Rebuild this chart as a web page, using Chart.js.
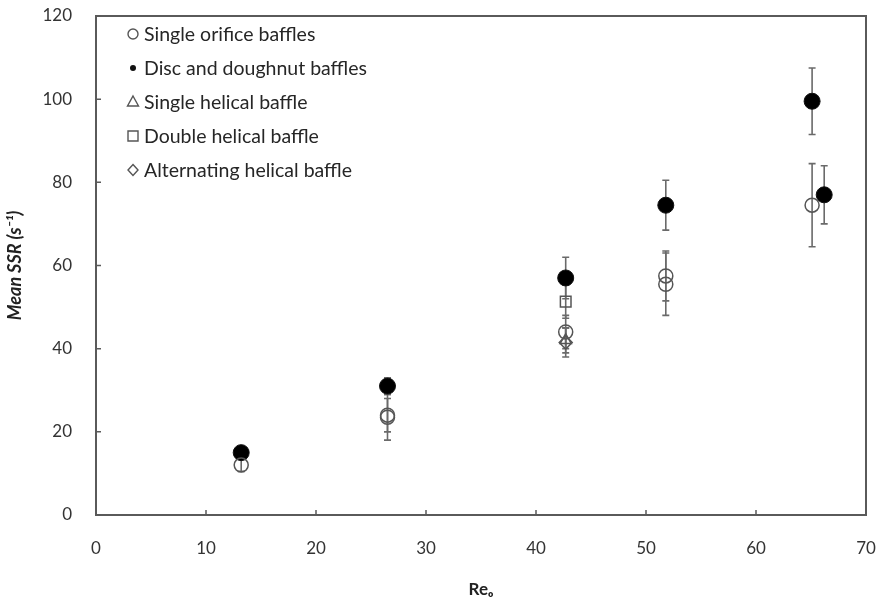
<!DOCTYPE html>
<html>
<head>
<meta charset="utf-8">
<script src="https://cdn.jsdelivr.net/npm/chart.js@4.4.1/dist/chart.umd.min.js"></script>
<style>
  html, body { margin: 0; padding: 0; background: #fff; }
  #wrap { width: 895px; height: 604px; }
</style>
</head>
<body>
<div id="wrap"><canvas id="ssr-chart" width="895" height="604"></canvas></div>
<script>
// values (Re_o vs mean SSR, with +/- error)
var orificeRe  = [13.2, 26.5, 26.5, 42.7, 51.8, 51.8, 65.1];
var orificeSSR = [12, 23.5, 24, 44, 57.5, 55.5, 74.5];
var orificeErr = [1.5, 5.5, 4, 4, 6, 7.5, 10];

var discRe  = [13.2, 26.5, 42.7, 51.8, 65.1, 66.2];
var discSSR = [15, 31, 57, 74.5, 99.5, 77];
var discErr = [1, 2, 5, 6, 8, 7];

var singleRe = [42.7];
var singleSSR = [42];
var singleErr = [3];

var doubleRe = [42.7];
var doubleSSR = [51.3];
var doubleErr = [4];

var altRe = [42.7];
var altSSR = [41.5];
var altErr = [3.5];

var xTicks = [0, 10, 20, 30, 40, 50, 60, 70];
var yTicks = [0, 20, 40, 60, 80, 100, 120];

var legendLabels = ['Single orifice baffles', 'Disc and doughnut baffles', 'Single helical baffle',
                    'Double helical baffle', 'Alternating helical baffle'];

function pts(xs, ys, es) {
  return xs.map(function(x, i) { return { x: x, y: ys[i], err: es[i] }; });
}

var grey = '#5a5a5a';
var FONT = 'Lato, "Open Sans", sans-serif';

// error bars, drawn under the markers
var errorBars = {
  id: 'errorBars',
  beforeDatasetsDraw: function(chart) {
    var ctx = chart.ctx, xs = chart.scales.x, ys = chart.scales.y;
    ctx.save();
    ctx.strokeStyle = '#6a6a6a';
    ctx.lineWidth = 1.6;
    chart.data.datasets.forEach(function(ds) {
      ds.data.forEach(function(p) {
        var px = xs.getPixelForValue(p.x);
        var top = ys.getPixelForValue(p.y + p.err);
        var bot = ys.getPixelForValue(p.y - p.err);
        ctx.beginPath();
        ctx.moveTo(px, top); ctx.lineTo(px, bot);
        ctx.moveTo(px - 3.5, top); ctx.lineTo(px + 3.5, top);
        ctx.moveTo(px - 3.5, bot); ctx.lineTo(px + 3.5, bot);
        ctx.stroke();
      });
    });
    ctx.restore();
  }
};

// box round the plot and inward tick marks
var frame = {
  id: 'frame',
  afterDraw: function(chart) {
    var ctx = chart.ctx, a = chart.chartArea, xs = chart.scales.x, ys = chart.scales.y;
    ctx.save();
    ctx.strokeStyle = grey;
    ctx.lineWidth = 2;
    ctx.strokeRect(a.left, a.top, a.right - a.left, a.bottom - a.top);
    ctx.lineWidth = 1.5;
    ctx.beginPath();
    xTicks.forEach(function(v) {
      var px = xs.getPixelForValue(v);
      ctx.moveTo(px, a.bottom); ctx.lineTo(px, a.bottom - 5);
    });
    yTicks.forEach(function(v) {
      var py = ys.getPixelForValue(v);
      ctx.moveTo(a.left, py); ctx.lineTo(a.left + 5, py);
    });
    ctx.stroke();

    // legend inside the plot, top left
    var lx = a.left + 37, ly = a.top + 18, step = 34;
    ctx.font = '19.5px ' + FONT;
    ctx.fillStyle = '#262626';
    ctx.textBaseline = 'middle';
    legendLabels.forEach(function(t, i) {
      var y = ly + i * step;
      ctx.strokeStyle = '#555';
      ctx.lineWidth = 1.4;
      ctx.beginPath();
      if (i === 0) {
        ctx.arc(lx, y, 5, 0, Math.PI * 2); ctx.stroke();
      } else if (i === 1) {
        ctx.fillStyle = '#111';
        ctx.arc(lx, y, 3, 0, Math.PI * 2); ctx.fill();
        ctx.fillStyle = '#262626';
      } else if (i === 2) {
        ctx.moveTo(lx, y - 6); ctx.lineTo(lx + 5.5, y + 4); ctx.lineTo(lx - 5.5, y + 4); ctx.closePath(); ctx.stroke();
      } else if (i === 3) {
        ctx.rect(lx - 5, y - 5, 10, 10); ctx.stroke();
      } else {
        ctx.moveTo(lx, y - 5.5); ctx.lineTo(lx + 5, y); ctx.lineTo(lx, y + 5.5); ctx.lineTo(lx - 5, y); ctx.closePath(); ctx.stroke();
      }
      ctx.fillText(t, lx + 11, y + 1);
    });
    ctx.restore();
  }
};

new Chart(document.getElementById('ssr-chart'), {
  type: 'scatter',
  data: {
    datasets: [{
      label: legendLabels[0],
      data: pts(orificeRe, orificeSSR, orificeErr),
      pointStyle: 'circle', pointRadius: 7,
      borderColor: '#555', borderWidth: 1.5, backgroundColor: 'rgba(0,0,0,0)'
    }, {
      label: legendLabels[1],
      data: pts(discRe, discSSR, discErr),
      pointStyle: 'circle', pointRadius: 8,
      borderColor: '#111', borderWidth: 1, backgroundColor: '#000'
    }, {
      label: legendLabels[2],
      data: pts(singleRe, singleSSR, singleErr),
      pointStyle: 'triangle', pointRadius: 6.5,
      borderColor: '#555', borderWidth: 1.5, backgroundColor: 'rgba(0,0,0,0)'
    }, {
      label: legendLabels[3],
      data: pts(doubleRe, doubleSSR, doubleErr),
      pointStyle: 'rect', pointRadius: 7.5,
      borderColor: '#555', borderWidth: 1.5, backgroundColor: 'rgba(0,0,0,0)'
    }, {
      label: legendLabels[4],
      data: pts(altRe, altSSR, altErr),
      pointStyle: 'rectRot', pointRadius: 6.5,
      borderColor: '#555', borderWidth: 1.5, backgroundColor: 'rgba(0,0,0,0)'
    }]
  },
  options: {
    responsive: false,
    animation: false,
    layout: { padding: { top: 16, right: 29, bottom: 0, left: 0 } },
    plugins: {
      legend: { display: false },
      tooltip: { enabled: false }
    },
    scales: {
      x: {
        type: 'linear', min: 0, max: 70,
        afterBuildTicks: function(s) { s.ticks = xTicks.map(function(v) { return { value: v }; }); },
        afterFit: function(s) { s.height = 89; s.paddingLeft = 0; s.paddingRight = 0; },
        grid: { display: false, drawTicks: false },
        border: { display: false },
        ticks: { color: '#333', font: { family: FONT, size: 17 }, padding: 23, maxRotation: 0 },
        title: { display: true, text: 'Reₒ', color: '#222', font: { family: FONT, size: 17, weight: 'bold' }, padding: { top: 6 } }
      },
      y: {
        type: 'linear', min: 0, max: 120,
        afterBuildTicks: function(s) { s.ticks = yTicks.map(function(v) { return { value: v }; }); },
        afterFit: function(s) { s.width = 96; s.paddingTop = 0; s.paddingBottom = 0; },
        grid: { display: false, drawTicks: false },
        border: { display: false },
        ticks: { color: '#333', font: { family: FONT, size: 17 }, padding: 24 },
        title: { display: true, text: 'Mean SSR (s⁻¹)', color: '#222', font: { family: FONT, size: 18, style: 'italic', weight: 'bold' }, padding: { top: 4, bottom: 2 } }
      }
    }
  },
  plugins: [errorBars, frame]
});
</script>
</body>
</html>
